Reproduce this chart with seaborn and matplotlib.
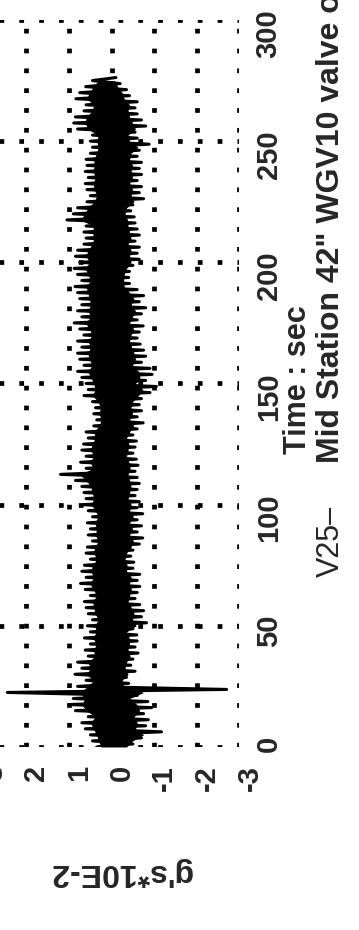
import matplotlib
matplotlib.use("Agg")
import matplotlib.pyplot as plt
import matplotlib.transforms as mtransforms
import numpy as np
import pandas as pd
import seaborn as sns

# vibration record, read from the (rotated) scan
# time grid of the samples, seconds
time_s = np.arange(0, 277.5, 2.5)

# positive peaks (g's*10E-2) at each sample time
upper = [0.35, 0.45, 0.5, 0.62, 0.7, 0.55, 0.85, 1.0, 0.9, 2.45,
         0.8, 0.6, 0.86, 0.7, 0.8, 0.55, 0.62, 0.5, 0.64, 0.5,
         0.57, 0.45, 0.55, 0.6, 0.64, 0.5, 0.62, 0.73, 0.6, 0.7,
         0.64, 0.5, 0.6, 0.57, 0.45, 0.55, 0.5, 0.57, 0.45, 0.55,
         0.68, 0.6, 0.65, 0.7, 0.85, 1.2, 0.6, 0.73, 0.6, 0.7,
         0.66, 0.55, 0.6, 0.42, 0.35, 0.42, 0.38, 0.45, 0.65, 0.55,
         0.6, 0.7, 0.8, 0.65, 0.75, 0.8, 0.7, 0.8, 0.65, 0.75,
         0.88, 0.7, 0.8, 0.7, 0.75, 0.8, 0.86, 0.7, 0.8, 0.88,
         0.75, 0.85, 0.8, 0.65, 0.6, 0.65, 0.6, 1.05, 0.9, 0.8,
         0.58, 0.5, 0.58, 0.62, 0.55, 0.62, 0.58, 0.6, 0.5, 0.45,
         0.5, 0.45, 0.8, 0.89, 0.85, 0.65, 0.6, 0.84, 0.75, 0.61,
         0.45]

# negative peaks, half a step later
lower = [-0.5, -0.7, -1.17, -0.8, -0.86, -0.75, -0.94, -0.85, -0.6, -2.7,
         -0.4, -0.35, -0.55, -0.45, -0.5, -0.62, -0.55, -0.6, -0.59, -0.5,
         -0.82, -0.7, -0.75, -0.66, -0.55, -0.6, -0.66, -0.6, -0.66, -0.5,
         -0.52, -0.45, -0.5, -0.65, -0.73, -0.6, -0.7, -0.6, -0.73, -0.6,
         -0.65, -0.55, -0.6, -0.65, -0.6, -0.55, -0.62, -0.58, -0.5, -0.55,
         -0.58, -0.5, -0.6, -0.74, -0.6, -0.7, -0.65, -0.7, -0.9, -1.05,
         -0.8, -0.95, -0.9, -0.7, -0.8, -0.75, -0.67, -0.6, -0.65, -0.74,
         -0.6, -0.7, -0.8, -0.65, -0.75, -0.6, -0.42, -0.4, -0.42, -0.5,
         -0.65, -0.6, -0.65, -0.55, -0.65, -0.6, -0.55, -0.53, -0.45, -0.5,
         -0.75, -0.65, -0.7, -0.6, -0.7, -0.65, -0.7, -0.6, -0.65, -0.88,
         -0.6, -0.55, -0.8, -0.7, -0.6, -0.55, -0.6, -0.42, -0.35, -0.2,
         -0.1]

g_ticks = [3, 2, 1, 0, -1, -2, -3]
g_labels = ["3", "2", "1", "0", "-1", "-2", "-3"]
t_ticks = [0, 50, 100, 150, 200, 250, 300]
t_labels = ["0", "50", "100", "150", "200", "250", "300"]

sig = pd.DataFrame({
    "t": np.concatenate([time_s, time_s + 1.25]),
    "g": np.concatenate([upper, lower]),
}).sort_values("t")

sns.set_style("white")
plt.rcParams["font.family"] = ["Liberation Sans", "DejaVu Sans"]
plt.rcParams["font.weight"] = "bold"

fig = plt.figure(figsize=(3.59, 9.30), dpi=100)
# page is turned a quarter: time runs upward, g's run right-to-left
ax = fig.add_axes([-0.045, 0.1968, 0.712, 0.7817])

ax.grid(True, color="black", linewidth=3.4, linestyle=(0, (1, 3.2)))
ax.set_axisbelow(True)

# solid core of the trace, the zig-zag gives the ragged edge
core_hi = np.clip(np.array(upper) * 0.7, 0, 0.75)
core_lo = np.clip(np.array(lower) * 0.7, -0.75, 0)
ax.fill_betweenx(time_s, core_lo, core_hi, color="black", lw=0)
sns.lineplot(data=sig, x="g", y="t", orient="y", estimator=None, sort=True,
             color="black", linewidth=2.2, ax=ax)

ax.set_xlim(3, -3)
ax.set_ylim(0, 300)
ax.set_xticks(g_ticks)
ax.set_xticklabels(g_labels)
ax.set_yticks(t_ticks)
ax.set_yticklabels(t_labels)
ax.yaxis.tick_right()
ax.tick_params(axis="x", length=0, pad=13, labelrotation=90, labelsize=21)
ax.tick_params(axis="y", length=0, pad=11, labelrotation=90, labelsize=21)
shift = mtransforms.ScaledTranslation(0.10, 0, fig.dpi_scale_trans)
for lbl in ax.get_xticklabels():
    lbl.set_transform(lbl.get_transform() + shift)
for s in ax.spines.values():
    s.set_visible(False)
ax.set_xlabel("")
ax.set_ylabel("")

fig.text(120 / 359, 1 - 872 / 930, "g's*10E-2", rotation=180,
         ha="center", va="center", fontsize=23, fontweight="bold")
fig.text(298 / 359, 1 - 380 / 930, "Time : sec", rotation=90,
         ha="center", va="center", fontsize=22, fontweight="bold")
fig.text(331 / 359, 1 - 577 / 930, "V25\u2013", rotation=90,
         ha="center", va="bottom", fontsize=22, fontweight="normal")
fig.text(331 / 359, 1 - 463 / 930, "Mid Station 42\" WGV10 valve open",
         rotation=90, ha="center", va="bottom", fontsize=23, fontweight="bold")

fig.savefig("out.png", dpi=100)
